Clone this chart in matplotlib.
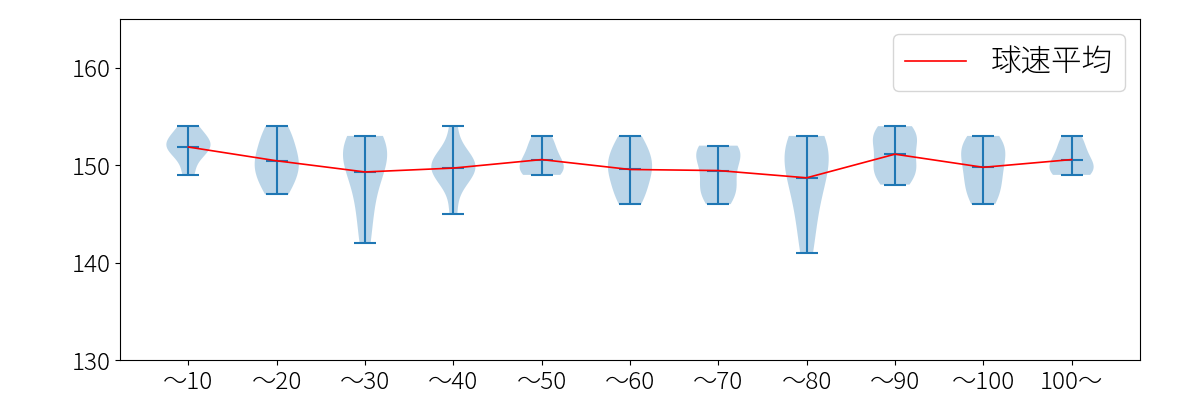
import matplotlib
matplotlib.use("Agg")
import matplotlib.pyplot as plt
import numpy as np

plt.rcParams['font.family'] = ['Noto Sans CJK JP', 'DejaVu Sans']
plt.rcParams['font.weight'] = 'light'

labels = ["～10", "～20", "～30", "～40", "～50", "～60", "～70", "～80", "～90", "～100", "100～"]

s10 = [149, 151, 152, 152, 152, 153, 154]
s20 = [147, 148, 149, 150, 150, 151, 152, 153, 154]
s30 = [142, 145, 147, 149, 150, 151, 151, 152, 153, 153]
s40 = [145, 148, 149, 149, 150, 150, 150, 151, 151, 154]
s50 = [149, 149, 150, 150, 151, 152, 153]
s60 = [146, 147, 148, 149, 150, 150, 151, 152, 153]
s70 = [146, 147, 148, 148, 150, 151, 151, 152, 152]
s80 = [141, 144, 146, 148, 149, 150, 151, 152, 153, 153]
s90 = [148, 149, 150, 150, 152, 153, 153, 154]
s100 = [146, 147, 148, 149, 150, 151, 152, 152, 153]
s100p = [149, 149, 150, 150, 151, 152, 153]

data = [s10, s20, s30, s40, s50, s60, s70, s80, s90, s100, s100p]

fig = plt.figure(figsize=(12, 4), dpi=100)
ax = fig.add_axes([0.1, 0.1, 0.85, 0.8525])

pos = np.arange(1, len(data) + 1)
ax.violinplot(data, positions=pos, showmeans=True, showextrema=True)
means = [np.mean(d) for d in data]
ax.plot(pos, means, color='red', linewidth=1.2, label='球速平均')

ax.set_ylim(130, 165)
ax.set_yticks([130, 140, 150, 160])
ax.set_xticks(pos)
ax.set_xticklabels(labels)
ax.tick_params(labelsize=17.5)
ax.legend(loc='upper right', fontsize=22)

fig.savefig("out.png")
